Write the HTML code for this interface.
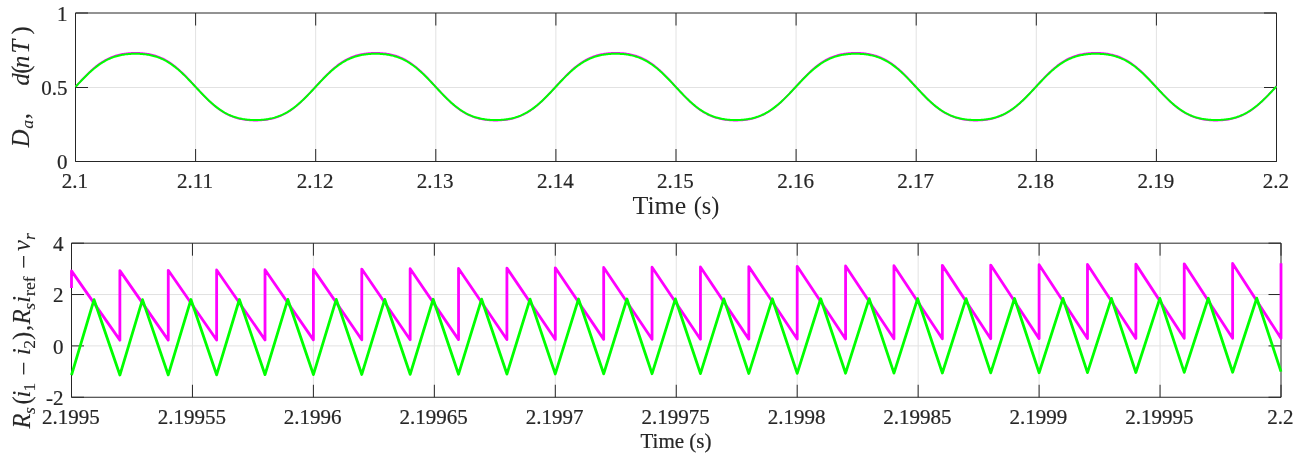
<!DOCTYPE html>
<html><head><meta charset="utf-8"><style>
html,body{margin:0;padding:0;background:#fff;}
body{width:1302px;height:462px;overflow:hidden;}
svg{display:block;}
text{font-family:"Liberation Serif", serif;fill:#262626;stroke:#262626;stroke-width:0.22px;}
</style></head><body>
<svg width="1302" height="462" viewBox="0 0 1302 462">
<rect width="1302" height="462" fill="#fff"/>
<line x1="195.6" y1="13.0" x2="195.6" y2="161.5" stroke="#e2e2e2" stroke-width="1"/>
<line x1="315.7" y1="13.0" x2="315.7" y2="161.5" stroke="#e2e2e2" stroke-width="1"/>
<line x1="435.8" y1="13.0" x2="435.8" y2="161.5" stroke="#e2e2e2" stroke-width="1"/>
<line x1="555.9" y1="13.0" x2="555.9" y2="161.5" stroke="#e2e2e2" stroke-width="1"/>
<line x1="676.0" y1="13.0" x2="676.0" y2="161.5" stroke="#e2e2e2" stroke-width="1"/>
<line x1="796.1" y1="13.0" x2="796.1" y2="161.5" stroke="#e2e2e2" stroke-width="1"/>
<line x1="916.2" y1="13.0" x2="916.2" y2="161.5" stroke="#e2e2e2" stroke-width="1"/>
<line x1="1036.3" y1="13.0" x2="1036.3" y2="161.5" stroke="#e2e2e2" stroke-width="1"/>
<line x1="1156.4" y1="13.0" x2="1156.4" y2="161.5" stroke="#e2e2e2" stroke-width="1"/>
<line x1="75.5" y1="87.5" x2="1276.5" y2="87.5" stroke="#e2e2e2" stroke-width="1"/>
<line x1="192.45" y1="243.17999999999998" x2="192.45" y2="397.26" stroke="#e2e2e2" stroke-width="1"/>
<line x1="313.4" y1="243.17999999999998" x2="313.4" y2="397.26" stroke="#e2e2e2" stroke-width="1"/>
<line x1="434.35" y1="243.17999999999998" x2="434.35" y2="397.26" stroke="#e2e2e2" stroke-width="1"/>
<line x1="555.3" y1="243.17999999999998" x2="555.3" y2="397.26" stroke="#e2e2e2" stroke-width="1"/>
<line x1="676.25" y1="243.17999999999998" x2="676.25" y2="397.26" stroke="#e2e2e2" stroke-width="1"/>
<line x1="797.2" y1="243.17999999999998" x2="797.2" y2="397.26" stroke="#e2e2e2" stroke-width="1"/>
<line x1="918.15" y1="243.17999999999998" x2="918.15" y2="397.26" stroke="#e2e2e2" stroke-width="1"/>
<line x1="1039.1" y1="243.17999999999998" x2="1039.1" y2="397.26" stroke="#e2e2e2" stroke-width="1"/>
<line x1="1160.05" y1="243.17999999999998" x2="1160.05" y2="397.26" stroke="#e2e2e2" stroke-width="1"/>
<line x1="71.5" y1="294.54" x2="1281.0" y2="294.54" stroke="#e2e2e2" stroke-width="1"/>
<line x1="71.5" y1="345.9" x2="1281.0" y2="345.9" stroke="#e2e2e2" stroke-width="1"/>
<line x1="75.5" y1="13.0" x2="1276.5" y2="13.0" stroke="#262626" stroke-width="1"/>
<line x1="75.5" y1="161.5" x2="1276.5" y2="161.5" stroke="#262626" stroke-width="1"/>
<line x1="75.5" y1="13.0" x2="75.5" y2="161.5" stroke="#262626" stroke-width="1"/>
<line x1="1276.5" y1="13.0" x2="1276.5" y2="161.5" stroke="#262626" stroke-width="1"/>
<line x1="71.5" y1="243.17999999999998" x2="1281.0" y2="243.17999999999998" stroke="#262626" stroke-width="1"/>
<line x1="71.5" y1="397.26" x2="1281.0" y2="397.26" stroke="#262626" stroke-width="1"/>
<line x1="71.5" y1="243.17999999999998" x2="71.5" y2="397.26" stroke="#262626" stroke-width="1"/>
<line x1="1281.0" y1="243.17999999999998" x2="1281.0" y2="397.26" stroke="#262626" stroke-width="1"/>
<line x1="75.5" y1="161.5" x2="75.5" y2="149.0" stroke="#262626"/>
<line x1="75.5" y1="13.0" x2="75.5" y2="25.5" stroke="#262626"/>
<line x1="195.6" y1="161.5" x2="195.6" y2="149.0" stroke="#262626"/>
<line x1="195.6" y1="13.0" x2="195.6" y2="25.5" stroke="#262626"/>
<line x1="315.7" y1="161.5" x2="315.7" y2="149.0" stroke="#262626"/>
<line x1="315.7" y1="13.0" x2="315.7" y2="25.5" stroke="#262626"/>
<line x1="435.8" y1="161.5" x2="435.8" y2="149.0" stroke="#262626"/>
<line x1="435.8" y1="13.0" x2="435.8" y2="25.5" stroke="#262626"/>
<line x1="555.9" y1="161.5" x2="555.9" y2="149.0" stroke="#262626"/>
<line x1="555.9" y1="13.0" x2="555.9" y2="25.5" stroke="#262626"/>
<line x1="676.0" y1="161.5" x2="676.0" y2="149.0" stroke="#262626"/>
<line x1="676.0" y1="13.0" x2="676.0" y2="25.5" stroke="#262626"/>
<line x1="796.1" y1="161.5" x2="796.1" y2="149.0" stroke="#262626"/>
<line x1="796.1" y1="13.0" x2="796.1" y2="25.5" stroke="#262626"/>
<line x1="916.2" y1="161.5" x2="916.2" y2="149.0" stroke="#262626"/>
<line x1="916.2" y1="13.0" x2="916.2" y2="25.5" stroke="#262626"/>
<line x1="1036.3" y1="161.5" x2="1036.3" y2="149.0" stroke="#262626"/>
<line x1="1036.3" y1="13.0" x2="1036.3" y2="25.5" stroke="#262626"/>
<line x1="1156.4" y1="161.5" x2="1156.4" y2="149.0" stroke="#262626"/>
<line x1="1156.4" y1="13.0" x2="1156.4" y2="25.5" stroke="#262626"/>
<line x1="1276.5" y1="161.5" x2="1276.5" y2="149.0" stroke="#262626"/>
<line x1="1276.5" y1="13.0" x2="1276.5" y2="25.5" stroke="#262626"/>
<line x1="75.5" y1="161.5" x2="88.0" y2="161.5" stroke="#262626"/>
<line x1="1276.5" y1="161.5" x2="1264.0" y2="161.5" stroke="#262626"/>
<line x1="75.5" y1="87.5" x2="88.0" y2="87.5" stroke="#262626"/>
<line x1="1276.5" y1="87.5" x2="1264.0" y2="87.5" stroke="#262626"/>
<line x1="75.5" y1="13.0" x2="88.0" y2="13.0" stroke="#262626"/>
<line x1="1276.5" y1="13.0" x2="1264.0" y2="13.0" stroke="#262626"/>
<line x1="71.5" y1="397.26" x2="71.5" y2="384.76" stroke="#262626"/>
<line x1="71.5" y1="243.17999999999998" x2="71.5" y2="255.67999999999998" stroke="#262626"/>
<line x1="192.45" y1="397.26" x2="192.45" y2="384.76" stroke="#262626"/>
<line x1="192.45" y1="243.17999999999998" x2="192.45" y2="255.67999999999998" stroke="#262626"/>
<line x1="313.4" y1="397.26" x2="313.4" y2="384.76" stroke="#262626"/>
<line x1="313.4" y1="243.17999999999998" x2="313.4" y2="255.67999999999998" stroke="#262626"/>
<line x1="434.35" y1="397.26" x2="434.35" y2="384.76" stroke="#262626"/>
<line x1="434.35" y1="243.17999999999998" x2="434.35" y2="255.67999999999998" stroke="#262626"/>
<line x1="555.3" y1="397.26" x2="555.3" y2="384.76" stroke="#262626"/>
<line x1="555.3" y1="243.17999999999998" x2="555.3" y2="255.67999999999998" stroke="#262626"/>
<line x1="676.25" y1="397.26" x2="676.25" y2="384.76" stroke="#262626"/>
<line x1="676.25" y1="243.17999999999998" x2="676.25" y2="255.67999999999998" stroke="#262626"/>
<line x1="797.2" y1="397.26" x2="797.2" y2="384.76" stroke="#262626"/>
<line x1="797.2" y1="243.17999999999998" x2="797.2" y2="255.67999999999998" stroke="#262626"/>
<line x1="918.15" y1="397.26" x2="918.15" y2="384.76" stroke="#262626"/>
<line x1="918.15" y1="243.17999999999998" x2="918.15" y2="255.67999999999998" stroke="#262626"/>
<line x1="1039.1" y1="397.26" x2="1039.1" y2="384.76" stroke="#262626"/>
<line x1="1039.1" y1="243.17999999999998" x2="1039.1" y2="255.67999999999998" stroke="#262626"/>
<line x1="1160.05" y1="397.26" x2="1160.05" y2="384.76" stroke="#262626"/>
<line x1="1160.05" y1="243.17999999999998" x2="1160.05" y2="255.67999999999998" stroke="#262626"/>
<line x1="1281.0" y1="397.26" x2="1281.0" y2="384.76" stroke="#262626"/>
<line x1="1281.0" y1="243.17999999999998" x2="1281.0" y2="255.67999999999998" stroke="#262626"/>
<line x1="71.5" y1="397.26" x2="84.0" y2="397.26" stroke="#262626"/>
<line x1="1281.0" y1="397.26" x2="1268.5" y2="397.26" stroke="#262626"/>
<line x1="71.5" y1="345.9" x2="84.0" y2="345.9" stroke="#262626"/>
<line x1="1281.0" y1="345.9" x2="1268.5" y2="345.9" stroke="#262626"/>
<line x1="71.5" y1="294.53999999999996" x2="84.0" y2="294.53999999999996" stroke="#262626"/>
<line x1="1281.0" y1="294.53999999999996" x2="1268.5" y2="294.53999999999996" stroke="#262626"/>
<line x1="71.5" y1="243.17999999999998" x2="84.0" y2="243.17999999999998" stroke="#262626"/>
<line x1="1281.0" y1="243.17999999999998" x2="1268.5" y2="243.17999999999998" stroke="#262626"/>
<polyline points="75.5,86.70 76.5,85.61 77.5,84.52 78.5,83.43 79.5,82.34 80.5,81.27 81.5,80.20 82.5,79.14 83.5,78.09 84.5,77.05 85.5,76.03 86.5,75.02 87.5,74.03 88.5,73.06 89.5,72.10 90.5,71.17 91.5,70.25 92.5,69.36 93.5,68.49 94.5,67.64 95.5,66.82 96.5,66.02 97.5,65.24 98.5,64.49 99.5,63.77 100.5,63.07 101.5,62.40 102.5,61.76 103.5,61.14 104.5,60.55 105.5,59.98 106.5,59.45 107.5,58.93 108.5,58.44 109.5,57.98 110.5,57.54 111.5,57.13 112.5,56.74 113.5,56.37 114.5,56.02 115.5,55.70 116.5,55.40 117.5,55.12 118.5,54.85 119.5,54.61 120.5,54.39 121.5,54.18 122.5,53.99 123.5,53.82 124.5,53.67 125.5,53.53 126.5,53.40 127.5,53.29 128.5,53.20 129.5,53.11 130.5,53.04 131.5,52.99 132.5,52.94 133.5,52.91 134.5,52.89 135.5,52.89 136.5,52.89 137.5,52.91 138.5,52.94 139.5,52.98 140.5,53.04 141.5,53.11 142.5,53.19 143.5,53.29 144.5,53.40 145.5,53.52 146.5,53.66 147.5,53.81 148.5,53.99 149.5,54.17 150.5,54.38 151.5,54.60 152.5,54.84 153.5,55.10 154.5,55.38 155.5,55.68 156.5,56.01 157.5,56.35 158.5,56.72 159.5,57.11 160.5,57.52 161.5,57.96 162.5,58.42 163.5,58.91 164.5,59.42 165.5,59.96 166.5,60.52 167.5,61.11 168.5,61.73 169.5,62.37 170.5,63.04 171.5,63.74 172.5,64.46 173.5,65.21 174.5,65.98 175.5,66.78 176.5,67.60 177.5,68.45 178.5,69.31 179.5,70.21 180.5,71.12 181.5,72.06 182.5,73.01 183.5,73.98 184.5,74.97 185.5,75.98 186.5,77.00 187.5,78.04 188.5,79.09 189.5,80.15 190.5,81.21 191.5,82.29 192.5,83.37 193.5,84.46 194.5,85.55 195.5,86.65 196.5,87.74 197.5,88.83 198.5,89.92 199.5,91.00 200.5,92.08 201.5,93.15 202.5,94.21 203.5,95.26 204.5,96.29 205.5,97.32 206.5,98.33 207.5,99.32 208.5,100.29 209.5,101.25 210.5,102.19 211.5,103.10 212.5,104.00 213.5,104.87 214.5,105.72 215.5,106.54 216.5,107.34 217.5,108.12 218.5,108.87 219.5,109.59 220.5,110.29 221.5,110.96 222.5,111.61 223.5,112.23 224.5,112.82 225.5,113.39 226.5,113.93 227.5,114.44 228.5,114.93 229.5,115.40 230.5,115.84 231.5,116.25 232.5,116.64 233.5,117.01 234.5,117.36 235.5,117.68 236.5,117.99 237.5,118.27 238.5,118.53 239.5,118.78 240.5,119.00 241.5,119.21 242.5,119.40 243.5,119.57 244.5,119.73 245.5,119.87 246.5,119.99 247.5,120.10 248.5,120.20 249.5,120.28 250.5,120.35 251.5,120.41 252.5,120.45 253.5,120.49 254.5,120.51 255.5,120.51 256.5,120.51 257.5,120.49 258.5,120.46 259.5,120.42 260.5,120.36 261.5,120.29 262.5,120.21 263.5,120.12 264.5,120.01 265.5,119.89 266.5,119.75 267.5,119.59 268.5,119.42 269.5,119.24 270.5,119.03 271.5,118.81 272.5,118.57 273.5,118.31 274.5,118.03 275.5,117.73 276.5,117.41 277.5,117.07 278.5,116.70 279.5,116.31 280.5,115.90 281.5,115.46 282.5,115.00 283.5,114.52 284.5,114.01 285.5,113.47 286.5,112.91 287.5,112.32 288.5,111.70 289.5,111.06 290.5,110.39 291.5,109.70 292.5,108.98 293.5,108.23 294.5,107.46 295.5,106.66 296.5,105.84 297.5,105.00 298.5,104.13 299.5,103.24 300.5,102.33 301.5,101.39 302.5,100.44 303.5,99.47 304.5,98.48 305.5,97.47 306.5,96.45 307.5,95.41 308.5,94.37 309.5,93.31 310.5,92.24 311.5,91.16 312.5,90.08 313.5,88.99 314.5,87.90 315.5,86.81 316.5,85.72 317.5,84.63 318.5,83.54 319.5,82.45 320.5,81.38 321.5,80.31 322.5,79.24 323.5,78.20 324.5,77.16 325.5,76.13 326.5,75.12 327.5,74.13 328.5,73.15 329.5,72.20 330.5,71.26 331.5,70.34 332.5,69.45 333.5,68.57 334.5,67.72 335.5,66.90 336.5,66.10 337.5,65.32 338.5,64.57 339.5,63.84 340.5,63.14 341.5,62.47 342.5,61.82 343.5,61.20 344.5,60.61 345.5,60.04 346.5,59.50 347.5,58.98 348.5,58.49 349.5,58.03 350.5,57.58 351.5,57.17 352.5,56.77 353.5,56.40 354.5,56.06 355.5,55.73 356.5,55.43 357.5,55.14 358.5,54.88 359.5,54.64 360.5,54.41 361.5,54.20 362.5,54.01 363.5,53.84 364.5,53.68 365.5,53.54 366.5,53.41 367.5,53.30 368.5,53.20 369.5,53.12 370.5,53.05 371.5,52.99 372.5,52.95 373.5,52.91 374.5,52.89 375.5,52.89 376.5,52.89 377.5,52.91 378.5,52.94 379.5,52.98 380.5,53.03 381.5,53.10 382.5,53.18 383.5,53.28 384.5,53.38 385.5,53.51 386.5,53.65 387.5,53.80 388.5,53.97 389.5,54.15 390.5,54.36 391.5,54.58 392.5,54.82 393.5,55.08 394.5,55.35 395.5,55.65 396.5,55.97 397.5,56.32 398.5,56.68 399.5,57.07 400.5,57.48 401.5,57.91 402.5,58.37 403.5,58.86 404.5,59.37 405.5,59.90 406.5,60.46 407.5,61.05 408.5,61.67 409.5,62.31 410.5,62.97 411.5,63.67 412.5,64.38 413.5,65.13 414.5,65.90 415.5,66.70 416.5,67.52 417.5,68.36 418.5,69.23 419.5,70.12 420.5,71.03 421.5,71.96 422.5,72.91 423.5,73.89 424.5,74.87 425.5,75.88 426.5,76.90 427.5,77.93 428.5,78.98 429.5,80.04 430.5,81.11 431.5,82.18 432.5,83.27 433.5,84.35 434.5,85.44 435.5,86.54 436.5,87.63 437.5,88.72 438.5,89.81 439.5,90.89 440.5,91.97 441.5,93.04 442.5,94.10 443.5,95.15 444.5,96.19 445.5,97.22 446.5,98.23 447.5,99.22 448.5,100.20 449.5,101.15 450.5,102.09 451.5,103.01 452.5,103.91 453.5,104.78 454.5,105.63 455.5,106.46 456.5,107.26 457.5,108.04 458.5,108.79 459.5,109.52 460.5,110.22 461.5,110.90 462.5,111.55 463.5,112.17 464.5,112.76 465.5,113.33 466.5,113.88 467.5,114.39 468.5,114.89 469.5,115.35 470.5,115.79 471.5,116.21 472.5,116.61 473.5,116.98 474.5,117.33 475.5,117.65 476.5,117.96 477.5,118.24 478.5,118.51 479.5,118.75 480.5,118.98 481.5,119.19 482.5,119.38 483.5,119.55 484.5,119.71 485.5,119.85 486.5,119.98 487.5,120.09 488.5,120.19 489.5,120.28 490.5,120.35 491.5,120.41 492.5,120.45 493.5,120.48 494.5,120.50 495.5,120.51 496.5,120.51 497.5,120.49 498.5,120.46 499.5,120.42 500.5,120.37 501.5,120.30 502.5,120.22 503.5,120.13 504.5,120.02 505.5,119.90 506.5,119.76 507.5,119.61 508.5,119.44 509.5,119.26 510.5,119.05 511.5,118.83 512.5,118.60 513.5,118.34 514.5,118.06 515.5,117.76 516.5,117.44 517.5,117.10 518.5,116.74 519.5,116.35 520.5,115.94 521.5,115.51 522.5,115.05 523.5,114.57 524.5,114.06 525.5,113.53 526.5,112.97 527.5,112.38 528.5,111.77 529.5,111.13 530.5,110.46 531.5,109.77 532.5,109.05 533.5,108.31 534.5,107.54 535.5,106.75 536.5,105.93 537.5,105.08 538.5,104.22 539.5,103.33 540.5,102.42 541.5,101.49 542.5,100.53 543.5,99.56 544.5,98.58 545.5,97.57 546.5,96.55 547.5,95.52 548.5,94.47 549.5,93.41 550.5,92.35 551.5,91.27 552.5,90.19 553.5,89.10 554.5,88.01 555.5,86.92 556.5,85.83 557.5,84.73 558.5,83.65 559.5,82.56 560.5,81.48 561.5,80.41 562.5,79.35 563.5,78.30 564.5,77.26 565.5,76.23 566.5,75.22 567.5,74.23 568.5,73.25 569.5,72.29 570.5,71.35 571.5,70.43 572.5,69.54 573.5,68.66 574.5,67.81 575.5,66.98 576.5,66.18 577.5,65.40 578.5,64.64 579.5,63.91 580.5,63.21 581.5,62.54 582.5,61.89 583.5,61.26 584.5,60.67 585.5,60.10 586.5,59.55 587.5,59.03 588.5,58.54 589.5,58.07 590.5,57.63 591.5,57.21 592.5,56.81 593.5,56.44 594.5,56.09 595.5,55.76 596.5,55.46 597.5,55.17 598.5,54.91 599.5,54.66 600.5,54.43 601.5,54.22 602.5,54.03 603.5,53.86 604.5,53.70 605.5,53.55 606.5,53.43 607.5,53.31 608.5,53.21 609.5,53.13 610.5,53.06 611.5,53.00 612.5,52.95 613.5,52.92 614.5,52.90 615.5,52.89 616.5,52.89 617.5,52.91 618.5,52.93 619.5,52.97 620.5,53.03 621.5,53.09 622.5,53.17 623.5,53.27 624.5,53.37 625.5,53.49 626.5,53.63 627.5,53.78 628.5,53.95 629.5,54.13 630.5,54.34 631.5,54.55 632.5,54.79 633.5,55.05 634.5,55.33 635.5,55.62 636.5,55.94 637.5,56.28 638.5,56.64 639.5,57.03 640.5,57.44 641.5,57.87 642.5,58.33 643.5,58.81 644.5,59.31 645.5,59.85 646.5,60.41 647.5,60.99 648.5,61.60 649.5,62.24 650.5,62.90 651.5,63.59 652.5,64.31 653.5,65.05 654.5,65.82 655.5,66.61 656.5,67.43 657.5,68.27 658.5,69.14 659.5,70.03 660.5,70.94 661.5,71.87 662.5,72.82 663.5,73.79 664.5,74.77 665.5,75.78 666.5,76.80 667.5,77.83 668.5,78.88 669.5,79.93 670.5,81.00 671.5,82.07 672.5,83.16 673.5,84.24 674.5,85.33 675.5,86.43 676.5,87.52 677.5,88.61 678.5,89.70 679.5,90.78 680.5,91.86 681.5,92.93 682.5,94.00 683.5,95.05 684.5,96.09 685.5,97.11 686.5,98.13 687.5,99.12 688.5,100.10 689.5,101.06 690.5,102.00 691.5,102.92 692.5,103.82 693.5,104.70 694.5,105.55 695.5,106.38 696.5,107.18 697.5,107.97 698.5,108.72 699.5,109.45 700.5,110.15 701.5,110.83 702.5,111.48 703.5,112.11 704.5,112.70 705.5,113.28 706.5,113.82 707.5,114.34 708.5,114.84 709.5,115.31 710.5,115.75 711.5,116.17 712.5,116.57 713.5,116.94 714.5,117.29 715.5,117.62 716.5,117.93 717.5,118.22 718.5,118.48 719.5,118.73 720.5,118.96 721.5,119.17 722.5,119.36 723.5,119.54 724.5,119.70 725.5,119.84 726.5,119.97 727.5,120.08 728.5,120.18 729.5,120.27 730.5,120.34 731.5,120.40 732.5,120.45 733.5,120.48 734.5,120.50 735.5,120.51 736.5,120.51 737.5,120.49 738.5,120.47 739.5,120.43 740.5,120.37 741.5,120.31 742.5,120.23 743.5,120.14 744.5,120.03 745.5,119.91 746.5,119.78 747.5,119.63 748.5,119.46 749.5,119.28 750.5,119.08 751.5,118.86 752.5,118.62 753.5,118.36 754.5,118.09 755.5,117.79 756.5,117.48 757.5,117.14 758.5,116.78 759.5,116.39 760.5,115.99 761.5,115.55 762.5,115.10 763.5,114.62 764.5,114.11 765.5,113.58 766.5,113.02 767.5,112.44 768.5,111.83 769.5,111.19 770.5,110.53 771.5,109.84 772.5,109.13 773.5,108.38 774.5,107.62 775.5,106.83 776.5,106.01 777.5,105.17 778.5,104.30 779.5,103.42 780.5,102.51 781.5,101.58 782.5,100.63 783.5,99.66 784.5,98.68 785.5,97.67 786.5,96.65 787.5,95.62 788.5,94.58 789.5,93.52 790.5,92.45 791.5,91.38 792.5,90.30 793.5,89.21 794.5,88.12 795.5,87.03 796.5,85.93 797.5,84.84 798.5,83.75 799.5,82.67 800.5,81.59 801.5,80.52 802.5,79.46 803.5,78.40 804.5,77.36 805.5,76.34 806.5,75.32 807.5,74.33 808.5,73.35 809.5,72.39 810.5,71.45 811.5,70.52 812.5,69.62 813.5,68.75 814.5,67.89 815.5,67.06 816.5,66.25 817.5,65.47 818.5,64.72 819.5,63.99 820.5,63.28 821.5,62.60 822.5,61.95 823.5,61.32 824.5,60.72 825.5,60.15 826.5,59.60 827.5,59.08 828.5,58.59 829.5,58.12 830.5,57.67 831.5,57.25 832.5,56.85 833.5,56.48 834.5,56.12 835.5,55.79 836.5,55.49 837.5,55.20 838.5,54.93 839.5,54.68 840.5,54.45 841.5,54.24 842.5,54.05 843.5,53.87 844.5,53.71 845.5,53.57 846.5,53.44 847.5,53.32 848.5,53.22 849.5,53.14 850.5,53.06 851.5,53.00 852.5,52.96 853.5,52.92 854.5,52.90 855.5,52.89 856.5,52.89 857.5,52.90 858.5,52.93 859.5,52.97 860.5,53.02 861.5,53.09 862.5,53.16 863.5,53.26 864.5,53.36 865.5,53.48 866.5,53.62 867.5,53.77 868.5,53.93 869.5,54.11 870.5,54.31 871.5,54.53 872.5,54.77 873.5,55.02 874.5,55.30 875.5,55.59 876.5,55.91 877.5,56.25 878.5,56.60 879.5,56.99 880.5,57.39 881.5,57.82 882.5,58.28 883.5,58.76 884.5,59.26 885.5,59.79 886.5,60.35 887.5,60.93 888.5,61.54 889.5,62.18 890.5,62.84 891.5,63.52 892.5,64.24 893.5,64.98 894.5,65.74 895.5,66.53 896.5,67.35 897.5,68.19 898.5,69.05 899.5,69.94 900.5,70.84 901.5,71.77 902.5,72.72 903.5,73.69 904.5,74.67 905.5,75.68 906.5,76.69 907.5,77.73 908.5,78.77 909.5,79.83 910.5,80.89 911.5,81.97 912.5,83.05 913.5,84.13 914.5,85.23 915.5,86.32 916.5,87.41 917.5,88.50 918.5,89.59 919.5,90.68 920.5,91.76 921.5,92.83 922.5,93.89 923.5,94.94 924.5,95.98 925.5,97.01 926.5,98.03 927.5,99.02 928.5,100.00 929.5,100.96 930.5,101.91 931.5,102.83 932.5,103.73 933.5,104.61 934.5,105.47 935.5,106.30 936.5,107.11 937.5,107.89 938.5,108.65 939.5,109.38 940.5,110.08 941.5,110.76 942.5,111.42 943.5,112.05 944.5,112.65 945.5,113.22 946.5,113.77 947.5,114.29 948.5,114.79 949.5,115.26 950.5,115.71 951.5,116.13 952.5,116.53 953.5,116.91 954.5,117.26 955.5,117.59 956.5,117.90 957.5,118.19 958.5,118.46 959.5,118.71 960.5,118.94 961.5,119.15 962.5,119.34 963.5,119.52 964.5,119.68 965.5,119.83 966.5,119.96 967.5,120.07 968.5,120.17 969.5,120.26 970.5,120.33 971.5,120.39 972.5,120.44 973.5,120.48 974.5,120.50 975.5,120.51 976.5,120.51 977.5,120.50 978.5,120.47 979.5,120.43 980.5,120.38 981.5,120.32 982.5,120.24 983.5,120.15 984.5,120.04 985.5,119.92 986.5,119.79 987.5,119.64 988.5,119.48 989.5,119.29 990.5,119.10 991.5,118.88 992.5,118.64 993.5,118.39 994.5,118.12 995.5,117.82 996.5,117.51 997.5,117.17 998.5,116.81 999.5,116.43 1000.5,116.03 1001.5,115.60 1002.5,115.15 1003.5,114.67 1004.5,114.16 1005.5,113.63 1006.5,113.08 1007.5,112.50 1008.5,111.89 1009.5,111.26 1010.5,110.60 1011.5,109.91 1012.5,109.20 1013.5,108.46 1014.5,107.70 1015.5,106.91 1016.5,106.09 1017.5,105.25 1018.5,104.39 1019.5,103.51 1020.5,102.60 1021.5,101.67 1022.5,100.73 1023.5,99.76 1024.5,98.77 1025.5,97.77 1026.5,96.76 1027.5,95.73 1028.5,94.68 1029.5,93.63 1030.5,92.56 1031.5,91.49 1032.5,90.41 1033.5,89.32 1034.5,88.23 1035.5,87.14 1036.5,86.04 1037.5,84.95 1038.5,83.86 1039.5,82.78 1040.5,81.70 1041.5,80.63 1042.5,79.56 1043.5,78.51 1044.5,77.47 1045.5,76.44 1046.5,75.43 1047.5,74.43 1048.5,73.45 1049.5,72.48 1050.5,71.54 1051.5,70.62 1052.5,69.71 1053.5,68.83 1054.5,67.98 1055.5,67.14 1056.5,66.33 1057.5,65.55 1058.5,64.79 1059.5,64.06 1060.5,63.35 1061.5,62.67 1062.5,62.01 1063.5,61.39 1064.5,60.78 1065.5,60.21 1066.5,59.66 1067.5,59.13 1068.5,58.64 1069.5,58.16 1070.5,57.71 1071.5,57.29 1072.5,56.89 1073.5,56.51 1074.5,56.16 1075.5,55.83 1076.5,55.52 1077.5,55.23 1078.5,54.96 1079.5,54.71 1080.5,54.48 1081.5,54.26 1082.5,54.07 1083.5,53.89 1084.5,53.73 1085.5,53.58 1086.5,53.45 1087.5,53.33 1088.5,53.23 1089.5,53.14 1090.5,53.07 1091.5,53.01 1092.5,52.96 1093.5,52.92 1094.5,52.90 1095.5,52.89 1096.5,52.89 1097.5,52.90 1098.5,52.93 1099.5,52.97 1100.5,53.02 1101.5,53.08 1102.5,53.16 1103.5,53.25 1104.5,53.35 1105.5,53.47 1106.5,53.60 1107.5,53.75 1108.5,53.92 1109.5,54.10 1110.5,54.29 1111.5,54.51 1112.5,54.74 1113.5,55.00 1114.5,55.27 1115.5,55.56 1116.5,55.87 1117.5,56.21 1118.5,56.57 1119.5,56.95 1120.5,57.35 1121.5,57.78 1122.5,58.23 1123.5,58.71 1124.5,59.21 1125.5,59.74 1126.5,60.29 1127.5,60.87 1128.5,61.48 1129.5,62.11 1130.5,62.77 1131.5,63.45 1132.5,64.17 1133.5,64.90 1134.5,65.67 1135.5,66.45 1136.5,67.27 1137.5,68.10 1138.5,68.96 1139.5,69.85 1140.5,70.75 1141.5,71.68 1142.5,72.63 1143.5,73.59 1144.5,74.58 1145.5,75.58 1146.5,76.59 1147.5,77.62 1148.5,78.67 1149.5,79.72 1150.5,80.79 1151.5,81.86 1152.5,82.94 1153.5,84.03 1154.5,85.12 1155.5,86.21 1156.5,87.30 1157.5,88.39 1158.5,89.48 1159.5,90.57 1160.5,91.65 1161.5,92.72 1162.5,93.79 1163.5,94.84 1164.5,95.88 1165.5,96.91 1166.5,97.92 1167.5,98.92 1168.5,99.91 1169.5,100.87 1170.5,101.81 1171.5,102.74 1172.5,103.64 1173.5,104.52 1174.5,105.38 1175.5,106.22 1176.5,107.03 1177.5,107.81 1178.5,108.57 1179.5,109.31 1180.5,110.01 1181.5,110.70 1182.5,111.35 1183.5,111.98 1184.5,112.59 1185.5,113.16 1186.5,113.72 1187.5,114.24 1188.5,114.74 1189.5,115.21 1190.5,115.66 1191.5,116.09 1192.5,116.49 1193.5,116.87 1194.5,117.22 1195.5,117.56 1196.5,117.87 1197.5,118.16 1198.5,118.43 1199.5,118.68 1200.5,118.91 1201.5,119.13 1202.5,119.32 1203.5,119.50 1204.5,119.66 1205.5,119.81 1206.5,119.94 1207.5,120.06 1208.5,120.16 1209.5,120.25 1210.5,120.33 1211.5,120.39 1212.5,120.44 1213.5,120.48 1214.5,120.50 1215.5,120.51 1216.5,120.51 1217.5,120.50 1218.5,120.47 1219.5,120.44 1220.5,120.39 1221.5,120.32 1222.5,120.25 1223.5,120.16 1224.5,120.05 1225.5,119.94 1226.5,119.80 1227.5,119.66 1228.5,119.49 1229.5,119.31 1230.5,119.12 1231.5,118.90 1232.5,118.67 1233.5,118.42 1234.5,118.15 1235.5,117.85 1236.5,117.54 1237.5,117.21 1238.5,116.85 1239.5,116.47 1240.5,116.07 1241.5,115.64 1242.5,115.19 1243.5,114.72 1244.5,114.21 1245.5,113.69 1246.5,113.14 1247.5,112.56 1248.5,111.95 1249.5,111.32 1250.5,110.66 1251.5,109.98 1252.5,109.27 1253.5,108.53 1254.5,107.77 1255.5,106.99 1256.5,106.17 1257.5,105.34 1258.5,104.48 1259.5,103.60 1260.5,102.69 1261.5,101.77 1262.5,100.82 1263.5,99.86 1264.5,98.87 1265.5,97.87 1266.5,96.86 1267.5,95.83 1268.5,94.79 1269.5,93.73 1270.5,92.67 1271.5,91.59 1272.5,90.51 1273.5,89.43 1274.5,88.34 1275.5,87.25 1276.5,86.15" fill="none" stroke="#ff00ff" stroke-width="1.8"/>
<polyline points="75.5,86.90 76.5,85.83 77.5,84.76 78.5,83.69 79.5,82.63 80.5,81.57 81.5,80.53 82.5,79.49 83.5,78.46 84.5,77.44 85.5,76.44 86.5,75.45 87.5,74.48 88.5,73.53 89.5,72.59 90.5,71.67 91.5,70.77 92.5,69.90 93.5,69.05 94.5,68.21 95.5,67.41 96.5,66.62 97.5,65.86 98.5,65.13 99.5,64.42 100.5,63.74 101.5,63.08 102.5,62.45 103.5,61.84 104.5,61.26 105.5,60.71 106.5,60.18 107.5,59.68 108.5,59.20 109.5,58.74 110.5,58.31 111.5,57.91 112.5,57.52 113.5,57.16 114.5,56.82 115.5,56.51 116.5,56.21 117.5,55.94 118.5,55.68 119.5,55.44 120.5,55.22 121.5,55.02 122.5,54.84 123.5,54.67 124.5,54.51 125.5,54.38 126.5,54.26 127.5,54.15 128.5,54.05 129.5,53.97 130.5,53.90 131.5,53.85 132.5,53.81 133.5,53.77 134.5,53.76 135.5,53.75 136.5,53.76 137.5,53.77 138.5,53.80 139.5,53.85 140.5,53.90 141.5,53.97 142.5,54.05 143.5,54.14 144.5,54.25 145.5,54.37 146.5,54.51 147.5,54.66 148.5,54.83 149.5,55.01 150.5,55.21 151.5,55.43 152.5,55.67 153.5,55.92 154.5,56.20 155.5,56.49 156.5,56.81 157.5,57.15 158.5,57.51 159.5,57.89 160.5,58.29 161.5,58.72 162.5,59.17 163.5,59.65 164.5,60.15 165.5,60.68 166.5,61.23 167.5,61.81 168.5,62.42 169.5,63.05 170.5,63.70 171.5,64.39 172.5,65.09 173.5,65.83 174.5,66.58 175.5,67.37 176.5,68.17 177.5,69.00 178.5,69.86 179.5,70.73 180.5,71.63 181.5,72.54 182.5,73.48 183.5,74.43 184.5,75.40 185.5,76.39 186.5,77.39 187.5,78.41 188.5,79.44 189.5,80.47 190.5,81.52 191.5,82.58 192.5,83.64 193.5,84.71 194.5,85.78 195.5,86.85 196.5,87.92 197.5,88.99 198.5,90.05 199.5,91.12 200.5,92.17 201.5,93.22 202.5,94.26 203.5,95.29 204.5,96.31 205.5,97.31 206.5,98.30 207.5,99.27 208.5,100.23 209.5,101.16 210.5,102.08 211.5,102.98 212.5,103.86 213.5,104.71 214.5,105.54 215.5,106.35 216.5,107.14 217.5,107.90 218.5,108.63 219.5,109.34 220.5,110.03 221.5,110.69 222.5,111.32 223.5,111.93 224.5,112.51 225.5,113.06 226.5,113.59 227.5,114.10 228.5,114.58 229.5,115.03 230.5,115.47 231.5,115.87 232.5,116.26 233.5,116.62 234.5,116.96 235.5,117.28 236.5,117.57 237.5,117.85 238.5,118.11 239.5,118.35 240.5,118.57 241.5,118.77 242.5,118.96 243.5,119.12 244.5,119.28 245.5,119.42 246.5,119.54 247.5,119.65 248.5,119.74 249.5,119.82 250.5,119.89 251.5,119.95 252.5,119.99 253.5,120.02 254.5,120.04 255.5,120.05 256.5,120.04 257.5,120.03 258.5,120.00 259.5,119.96 260.5,119.90 261.5,119.84 262.5,119.76 263.5,119.66 264.5,119.56 265.5,119.44 266.5,119.30 267.5,119.15 268.5,118.98 269.5,118.80 270.5,118.60 271.5,118.38 272.5,118.15 273.5,117.89 274.5,117.62 275.5,117.32 276.5,117.01 277.5,116.67 278.5,116.31 279.5,115.93 280.5,115.53 281.5,115.10 282.5,114.65 283.5,114.17 284.5,113.67 285.5,113.15 286.5,112.59 287.5,112.02 288.5,111.41 289.5,110.78 290.5,110.13 291.5,109.45 292.5,108.74 293.5,108.01 294.5,107.25 295.5,106.47 296.5,105.67 297.5,104.84 298.5,103.99 299.5,103.11 300.5,102.22 301.5,101.30 302.5,100.37 303.5,99.42 304.5,98.45 305.5,97.46 306.5,96.46 307.5,95.44 308.5,94.42 309.5,93.38 310.5,92.33 311.5,91.28 312.5,90.21 313.5,89.15 314.5,88.08 315.5,87.01 316.5,85.94 317.5,84.87 318.5,83.80 319.5,82.74 320.5,81.68 321.5,80.63 322.5,79.59 323.5,78.56 324.5,77.54 325.5,76.54 326.5,75.55 327.5,74.58 328.5,73.62 329.5,72.68 330.5,71.76 331.5,70.86 332.5,69.99 333.5,69.13 334.5,68.30 335.5,67.49 336.5,66.70 337.5,65.94 338.5,65.20 339.5,64.49 340.5,63.81 341.5,63.14 342.5,62.51 343.5,61.90 344.5,61.32 345.5,60.76 346.5,60.23 347.5,59.73 348.5,59.24 349.5,58.79 350.5,58.36 351.5,57.95 352.5,57.56 353.5,57.20 354.5,56.86 355.5,56.54 356.5,56.24 357.5,55.96 358.5,55.70 359.5,55.46 360.5,55.24 361.5,55.04 362.5,54.85 363.5,54.68 364.5,54.53 365.5,54.39 366.5,54.27 367.5,54.16 368.5,54.06 369.5,53.98 370.5,53.91 371.5,53.85 372.5,53.81 373.5,53.78 374.5,53.76 375.5,53.75 376.5,53.75 377.5,53.77 378.5,53.80 379.5,53.84 380.5,53.89 381.5,53.96 382.5,54.04 383.5,54.13 384.5,54.24 385.5,54.36 386.5,54.49 387.5,54.64 388.5,54.81 389.5,54.99 390.5,55.19 391.5,55.41 392.5,55.64 393.5,55.90 394.5,56.17 395.5,56.46 396.5,56.78 397.5,57.11 398.5,57.47 399.5,57.85 400.5,58.25 401.5,58.68 402.5,59.13 403.5,59.60 404.5,60.10 405.5,60.63 406.5,61.18 407.5,61.75 408.5,62.36 409.5,62.98 410.5,63.64 411.5,64.32 412.5,65.02 413.5,65.75 414.5,66.51 415.5,67.29 416.5,68.09 417.5,68.92 418.5,69.77 419.5,70.64 420.5,71.54 421.5,72.45 422.5,73.38 423.5,74.34 424.5,75.31 425.5,76.29 426.5,77.29 427.5,78.31 428.5,79.33 429.5,80.37 430.5,81.42 431.5,82.47 432.5,83.53 433.5,84.60 434.5,85.67 435.5,86.74 436.5,87.81 437.5,88.88 438.5,89.95 439.5,91.01 440.5,92.07 441.5,93.12 442.5,94.16 443.5,95.19 444.5,96.20 445.5,97.21 446.5,98.20 447.5,99.17 448.5,100.13 449.5,101.07 450.5,101.99 451.5,102.89 452.5,103.77 453.5,104.63 454.5,105.46 455.5,106.27 456.5,107.06 457.5,107.82 458.5,108.56 459.5,109.27 460.5,109.96 461.5,110.62 462.5,111.26 463.5,111.87 464.5,112.45 465.5,113.01 466.5,113.54 467.5,114.05 468.5,114.53 469.5,114.99 470.5,115.42 471.5,115.83 472.5,116.22 473.5,116.58 474.5,116.93 475.5,117.25 476.5,117.55 477.5,117.82 478.5,118.08 479.5,118.32 480.5,118.55 481.5,118.75 482.5,118.94 483.5,119.11 484.5,119.26 485.5,119.40 486.5,119.53 487.5,119.64 488.5,119.73 489.5,119.82 490.5,119.89 491.5,119.94 492.5,119.99 493.5,120.02 494.5,120.04 495.5,120.05 496.5,120.05 497.5,120.03 498.5,120.00 499.5,119.96 500.5,119.91 501.5,119.84 502.5,119.76 503.5,119.67 504.5,119.57 505.5,119.45 506.5,119.31 507.5,119.16 508.5,119.00 509.5,118.82 510.5,118.62 511.5,118.40 512.5,118.17 513.5,117.92 514.5,117.65 515.5,117.35 516.5,117.04 517.5,116.71 518.5,116.35 519.5,115.97 520.5,115.57 521.5,115.14 522.5,114.70 523.5,114.22 524.5,113.72 525.5,113.20 526.5,112.65 527.5,112.08 528.5,111.47 529.5,110.85 530.5,110.20 531.5,109.52 532.5,108.81 533.5,108.08 534.5,107.33 535.5,106.55 536.5,105.75 537.5,104.92 538.5,104.07 539.5,103.20 540.5,102.31 541.5,101.40 542.5,100.46 543.5,99.51 544.5,98.54 545.5,97.56 546.5,96.56 547.5,95.54 548.5,94.52 549.5,93.48 550.5,92.44 551.5,91.38 552.5,90.32 553.5,89.25 554.5,88.19 555.5,87.11 556.5,86.04 557.5,84.97 558.5,83.91 559.5,82.84 560.5,81.79 561.5,80.74 562.5,79.69 563.5,78.66 564.5,77.65 565.5,76.64 566.5,75.65 567.5,74.67 568.5,73.72 569.5,72.78 570.5,71.85 571.5,70.95 572.5,70.07 573.5,69.21 574.5,68.38 575.5,67.57 576.5,66.78 577.5,66.01 578.5,65.27 579.5,64.56 580.5,63.87 581.5,63.21 582.5,62.57 583.5,61.96 584.5,61.38 585.5,60.82 586.5,60.28 587.5,59.77 588.5,59.29 589.5,58.83 590.5,58.40 591.5,57.99 592.5,57.60 593.5,57.23 594.5,56.89 595.5,56.57 596.5,56.27 597.5,55.99 598.5,55.73 599.5,55.49 600.5,55.26 601.5,55.06 602.5,54.87 603.5,54.70 604.5,54.54 605.5,54.40 606.5,54.28 607.5,54.17 608.5,54.07 609.5,53.99 610.5,53.92 611.5,53.86 612.5,53.81 613.5,53.78 614.5,53.76 615.5,53.75 616.5,53.75 617.5,53.77 618.5,53.80 619.5,53.84 620.5,53.89 621.5,53.95 622.5,54.03 623.5,54.12 624.5,54.23 625.5,54.35 626.5,54.48 627.5,54.63 628.5,54.79 629.5,54.97 630.5,55.17 631.5,55.38 632.5,55.62 633.5,55.87 634.5,56.14 635.5,56.43 636.5,56.74 637.5,57.08 638.5,57.43 639.5,57.81 640.5,58.21 641.5,58.63 642.5,59.08 643.5,59.55 644.5,60.05 645.5,60.57 646.5,61.12 647.5,61.70 648.5,62.29 649.5,62.92 650.5,63.57 651.5,64.25 652.5,64.95 653.5,65.68 654.5,66.43 655.5,67.21 656.5,68.01 657.5,68.84 658.5,69.68 659.5,70.55 660.5,71.45 661.5,72.36 662.5,73.29 663.5,74.24 664.5,75.21 665.5,76.19 666.5,77.19 667.5,78.20 668.5,79.23 669.5,80.27 670.5,81.31 671.5,82.37 672.5,83.43 673.5,84.49 674.5,85.56 675.5,86.63 676.5,87.70 677.5,88.77 678.5,89.84 679.5,90.90 680.5,91.96 681.5,93.01 682.5,94.05 683.5,95.08 684.5,96.10 685.5,97.11 686.5,98.10 687.5,99.08 688.5,100.04 689.5,100.98 690.5,101.90 691.5,102.80 692.5,103.68 693.5,104.54 694.5,105.38 695.5,106.19 696.5,106.98 697.5,107.75 698.5,108.49 699.5,109.20 700.5,109.89 701.5,110.56 702.5,111.20 703.5,111.81 704.5,112.39 705.5,112.96 706.5,113.49 707.5,114.00 708.5,114.49 709.5,114.95 710.5,115.38 711.5,115.79 712.5,116.18 713.5,116.55 714.5,116.89 715.5,117.22 716.5,117.52 717.5,117.80 718.5,118.06 719.5,118.30 720.5,118.52 721.5,118.73 722.5,118.92 723.5,119.09 724.5,119.25 725.5,119.39 726.5,119.52 727.5,119.63 728.5,119.73 729.5,119.81 730.5,119.88 731.5,119.94 732.5,119.99 733.5,120.02 734.5,120.04 735.5,120.05 736.5,120.05 737.5,120.03 738.5,120.01 739.5,119.97 740.5,119.91 741.5,119.85 742.5,119.77 743.5,119.68 744.5,119.58 745.5,119.46 746.5,119.33 747.5,119.18 748.5,119.02 749.5,118.84 750.5,118.64 751.5,118.43 752.5,118.19 753.5,117.94 754.5,117.67 755.5,117.38 756.5,117.07 757.5,116.74 758.5,116.39 759.5,116.01 760.5,115.61 761.5,115.19 762.5,114.74 763.5,114.27 764.5,113.77 765.5,113.25 766.5,112.71 767.5,112.13 768.5,111.54 769.5,110.91 770.5,110.26 771.5,109.59 772.5,108.89 773.5,108.16 774.5,107.41 775.5,106.63 776.5,105.83 777.5,105.01 778.5,104.16 779.5,103.29 780.5,102.40 781.5,101.49 782.5,100.56 783.5,99.61 784.5,98.64 785.5,97.66 786.5,96.66 787.5,95.65 788.5,94.62 789.5,93.59 790.5,92.54 791.5,91.49 792.5,90.43 793.5,89.36 794.5,88.29 795.5,87.22 796.5,86.15 797.5,85.08 798.5,84.01 799.5,82.95 800.5,81.89 801.5,80.84 802.5,79.80 803.5,78.77 804.5,77.75 805.5,76.74 806.5,75.75 807.5,74.77 808.5,73.81 809.5,72.87 810.5,71.95 811.5,71.04 812.5,70.16 813.5,69.30 814.5,68.46 815.5,67.65 816.5,66.86 817.5,66.09 818.5,65.35 819.5,64.63 820.5,63.94 821.5,63.27 822.5,62.64 823.5,62.02 824.5,61.43 825.5,60.87 826.5,60.34 827.5,59.82 828.5,59.34 829.5,58.88 830.5,58.44 831.5,58.03 832.5,57.64 833.5,57.27 834.5,56.92 835.5,56.60 836.5,56.30 837.5,56.02 838.5,55.75 839.5,55.51 840.5,55.29 841.5,55.08 842.5,54.89 843.5,54.72 844.5,54.56 845.5,54.42 846.5,54.29 847.5,54.18 848.5,54.08 849.5,53.99 850.5,53.92 851.5,53.86 852.5,53.82 853.5,53.78 854.5,53.76 855.5,53.75 856.5,53.75 857.5,53.77 858.5,53.79 859.5,53.83 860.5,53.88 861.5,53.95 862.5,54.02 863.5,54.11 864.5,54.22 865.5,54.33 866.5,54.47 867.5,54.61 868.5,54.77 869.5,54.95 870.5,55.15 871.5,55.36 872.5,55.59 873.5,55.84 874.5,56.11 875.5,56.40 876.5,56.71 877.5,57.04 878.5,57.39 879.5,57.77 880.5,58.17 881.5,58.59 882.5,59.04 883.5,59.51 884.5,60.00 885.5,60.52 886.5,61.07 887.5,61.64 888.5,62.23 889.5,62.86 890.5,63.50 891.5,64.18 892.5,64.88 893.5,65.60 894.5,66.35 895.5,67.13 896.5,67.93 897.5,68.75 898.5,69.60 899.5,70.47 900.5,71.36 901.5,72.27 902.5,73.20 903.5,74.14 904.5,75.11 905.5,76.09 906.5,77.09 907.5,78.10 908.5,79.13 909.5,80.16 910.5,81.21 911.5,82.26 912.5,83.32 913.5,84.39 914.5,85.45 915.5,86.52 916.5,87.60 917.5,88.67 918.5,89.73 919.5,90.80 920.5,91.86 921.5,92.91 922.5,93.95 923.5,94.98 924.5,96.00 925.5,97.01 926.5,98.00 927.5,98.98 928.5,99.94 929.5,100.89 930.5,101.81 931.5,102.71 932.5,103.60 933.5,104.46 934.5,105.30 935.5,106.11 936.5,106.91 937.5,107.67 938.5,108.42 939.5,109.13 940.5,109.83 941.5,110.49 942.5,111.13 943.5,111.75 944.5,112.34 945.5,112.90 946.5,113.44 947.5,113.95 948.5,114.44 949.5,114.90 950.5,115.34 951.5,115.75 952.5,116.14 953.5,116.51 954.5,116.86 955.5,117.18 956.5,117.49 957.5,117.77 958.5,118.03 959.5,118.28 960.5,118.50 961.5,118.71 962.5,118.90 963.5,119.08 964.5,119.23 965.5,119.38 966.5,119.50 967.5,119.62 968.5,119.72 969.5,119.80 970.5,119.87 971.5,119.93 972.5,119.98 973.5,120.02 974.5,120.04 975.5,120.05 976.5,120.05 977.5,120.03 978.5,120.01 979.5,119.97 980.5,119.92 981.5,119.86 982.5,119.78 983.5,119.69 984.5,119.59 985.5,119.47 986.5,119.34 987.5,119.20 988.5,119.03 989.5,118.86 990.5,118.66 991.5,118.45 992.5,118.22 993.5,117.97 994.5,117.70 995.5,117.41 996.5,117.10 997.5,116.77 998.5,116.42 999.5,116.05 1000.5,115.65 1001.5,115.23 1002.5,114.79 1003.5,114.32 1004.5,113.82 1005.5,113.31 1006.5,112.76 1007.5,112.19 1008.5,111.60 1009.5,110.98 1010.5,110.33 1011.5,109.66 1012.5,108.96 1013.5,108.23 1014.5,107.48 1015.5,106.71 1016.5,105.91 1017.5,105.09 1018.5,104.25 1019.5,103.38 1020.5,102.49 1021.5,101.58 1022.5,100.65 1023.5,99.70 1024.5,98.74 1025.5,97.76 1026.5,96.76 1027.5,95.75 1028.5,94.72 1029.5,93.69 1030.5,92.65 1031.5,91.59 1032.5,90.53 1033.5,89.47 1034.5,88.40 1035.5,87.33 1036.5,86.26 1037.5,85.19 1038.5,84.12 1039.5,83.05 1040.5,82.00 1041.5,80.94 1042.5,79.90 1043.5,78.87 1044.5,77.85 1045.5,76.84 1046.5,75.85 1047.5,74.87 1048.5,73.91 1049.5,72.96 1050.5,72.04 1051.5,71.13 1052.5,70.25 1053.5,69.38 1054.5,68.54 1055.5,67.73 1056.5,66.93 1057.5,66.16 1058.5,65.42 1059.5,64.70 1060.5,64.01 1061.5,63.34 1062.5,62.70 1063.5,62.08 1064.5,61.49 1065.5,60.93 1066.5,60.39 1067.5,59.87 1068.5,59.39 1069.5,58.92 1070.5,58.48 1071.5,58.07 1072.5,57.67 1073.5,57.30 1074.5,56.96 1075.5,56.63 1076.5,56.33 1077.5,56.04 1078.5,55.78 1079.5,55.53 1080.5,55.31 1081.5,55.10 1082.5,54.91 1083.5,54.73 1084.5,54.57 1085.5,54.43 1086.5,54.30 1087.5,54.19 1088.5,54.09 1089.5,54.00 1090.5,53.93 1091.5,53.87 1092.5,53.82 1093.5,53.79 1094.5,53.76 1095.5,53.75 1096.5,53.75 1097.5,53.76 1098.5,53.79 1099.5,53.83 1100.5,53.88 1101.5,53.94 1102.5,54.01 1103.5,54.10 1104.5,54.20 1105.5,54.32 1106.5,54.45 1107.5,54.60 1108.5,54.76 1109.5,54.94 1110.5,55.13 1111.5,55.34 1112.5,55.57 1113.5,55.82 1114.5,56.08 1115.5,56.37 1116.5,56.68 1117.5,57.01 1118.5,57.36 1119.5,57.73 1120.5,58.13 1121.5,58.55 1122.5,58.99 1123.5,59.46 1124.5,59.95 1125.5,60.47 1126.5,61.01 1127.5,61.58 1128.5,62.17 1129.5,62.79 1130.5,63.44 1131.5,64.11 1132.5,64.81 1133.5,65.53 1134.5,66.28 1135.5,67.05 1136.5,67.85 1137.5,68.67 1138.5,69.51 1139.5,70.38 1140.5,71.27 1141.5,72.17 1142.5,73.10 1143.5,74.05 1144.5,75.01 1145.5,75.99 1146.5,76.99 1147.5,78.00 1148.5,79.02 1149.5,80.06 1150.5,81.10 1151.5,82.15 1152.5,83.21 1153.5,84.28 1154.5,85.35 1155.5,86.42 1156.5,87.49 1157.5,88.56 1158.5,89.63 1159.5,90.69 1160.5,91.75 1161.5,92.80 1162.5,93.85 1163.5,94.88 1164.5,95.90 1165.5,96.91 1166.5,97.90 1167.5,98.88 1168.5,99.85 1169.5,100.79 1170.5,101.72 1171.5,102.62 1172.5,103.51 1173.5,104.37 1174.5,105.21 1175.5,106.03 1176.5,106.83 1177.5,107.60 1178.5,108.34 1179.5,109.06 1180.5,109.76 1181.5,110.43 1182.5,111.07 1183.5,111.69 1184.5,112.28 1185.5,112.85 1186.5,113.39 1187.5,113.90 1188.5,114.39 1189.5,114.86 1190.5,115.30 1191.5,115.71 1192.5,116.11 1193.5,116.48 1194.5,116.83 1195.5,117.15 1196.5,117.46 1197.5,117.74 1198.5,118.01 1199.5,118.25 1200.5,118.48 1201.5,118.69 1202.5,118.88 1203.5,119.06 1204.5,119.22 1205.5,119.36 1206.5,119.49 1207.5,119.61 1208.5,119.71 1209.5,119.79 1210.5,119.87 1211.5,119.93 1212.5,119.98 1213.5,120.01 1214.5,120.04 1215.5,120.05 1216.5,120.05 1217.5,120.04 1218.5,120.01 1219.5,119.97 1220.5,119.93 1221.5,119.86 1222.5,119.79 1223.5,119.70 1224.5,119.60 1225.5,119.49 1226.5,119.36 1227.5,119.21 1228.5,119.05 1229.5,118.87 1230.5,118.68 1231.5,118.47 1232.5,118.24 1233.5,118.00 1234.5,117.73 1235.5,117.44 1236.5,117.14 1237.5,116.81 1238.5,116.46 1239.5,116.09 1240.5,115.69 1241.5,115.27 1242.5,114.83 1243.5,114.37 1244.5,113.88 1245.5,113.36 1246.5,112.82 1247.5,112.25 1248.5,111.66 1249.5,111.04 1250.5,110.39 1251.5,109.72 1252.5,109.03 1253.5,108.31 1254.5,107.56 1255.5,106.79 1256.5,105.99 1257.5,105.17 1258.5,104.33 1259.5,103.47 1260.5,102.58 1261.5,101.67 1262.5,100.74 1263.5,99.80 1264.5,98.84 1265.5,97.86 1266.5,96.86 1267.5,95.85 1268.5,94.83 1269.5,93.79 1270.5,92.75 1271.5,91.70 1272.5,90.64 1273.5,89.57 1274.5,88.51 1275.5,87.44 1276.5,86.36" fill="none" stroke="#00ff00" stroke-width="2.0"/>
<polyline points="71.50,288.12 71.50,270.91 119.88,340.17 119.88,270.61 168.26,340.09 168.26,270.30 216.64,340.00 216.64,269.99 265.02,339.92 265.02,269.68 313.40,339.84 313.40,269.37 361.78,339.76 361.78,269.07 410.16,339.68 410.16,268.76 458.54,339.59 458.54,268.45 506.92,339.51 506.92,268.14 555.30,339.43 555.30,267.83 603.68,339.35 603.68,267.52 652.06,339.26 652.06,267.22 700.44,339.18 700.44,266.91 748.82,339.10 748.82,266.60 797.20,339.02 797.20,266.29 845.58,338.94 845.58,265.98 893.96,338.85 893.96,265.68 942.34,338.77 942.34,265.37 990.72,338.69 990.72,265.06 1039.10,338.61 1039.10,264.75 1087.48,338.52 1087.48,264.44 1135.86,338.44 1135.86,264.13 1184.24,338.36 1184.24,263.83 1232.62,338.28 1232.62,263.52 1281.00,338.20 1281.00,263.21" fill="none" stroke="#ff00ff" stroke-width="2.8" stroke-linejoin="round"/>
<polyline points="71.50,375.18 94.05,299.68 119.88,375.05 142.49,299.61 168.26,374.93 190.94,299.55 216.64,374.81 239.38,299.49 265.02,374.68 287.83,299.43 313.40,374.56 336.27,299.37 361.78,374.44 384.72,299.31 410.16,374.31 433.17,299.24 458.54,374.19 481.61,299.18 506.92,374.07 530.06,299.12 555.30,373.94 578.50,299.06 603.68,373.82 626.95,299.00 652.06,373.70 675.39,298.94 700.44,373.57 723.84,298.87 748.82,373.45 772.29,298.81 797.20,373.33 820.73,298.75 845.58,373.20 869.18,298.69 893.96,373.08 917.62,298.63 942.34,372.96 966.07,298.57 990.72,372.83 1014.52,298.50 1039.10,372.71 1062.96,298.44 1087.48,372.59 1111.41,298.38 1135.86,372.46 1159.85,298.32 1184.24,372.34 1208.30,298.26 1232.62,372.22 1256.74,298.20 1281.00,371.58" fill="none" stroke="#00ff00" stroke-width="2.8" stroke-linejoin="round"/>
<g opacity="0.999">
<text x="74.9" y="187.8" font-size="21" text-anchor="middle" >2.1</text>
<text x="194.99999999999744" y="187.8" font-size="21" text-anchor="middle" >2.11</text>
<text x="315.1000000000002" y="187.8" font-size="21" text-anchor="middle" >2.12</text>
<text x="435.19999999999766" y="187.8" font-size="21" text-anchor="middle" >2.13</text>
<text x="555.3000000000004" y="187.8" font-size="21" text-anchor="middle" >2.14</text>
<text x="675.3999999999978" y="187.8" font-size="21" text-anchor="middle" >2.15</text>
<text x="795.5000000000006" y="187.8" font-size="21" text-anchor="middle" >2.16</text>
<text x="915.5999999999981" y="187.8" font-size="21" text-anchor="middle" >2.17</text>
<text x="1035.700000000001" y="187.8" font-size="21" text-anchor="middle" >2.18</text>
<text x="1155.7999999999984" y="187.8" font-size="21" text-anchor="middle" >2.19</text>
<text x="1275.9000000000012" y="187.8" font-size="21" text-anchor="middle" >2.2</text>
<text x="70.8" y="424.0" font-size="21" text-anchor="middle" >2.1995</text>
<text x="191.7499999997181" y="424.0" font-size="21" text-anchor="middle" >2.19955</text>
<text x="312.7000000005105" y="424.0" font-size="21" text-anchor="middle" >2.1996</text>
<text x="433.6500000002286" y="424.0" font-size="21" text-anchor="middle" >2.19965</text>
<text x="554.5999999999467" y="424.0" font-size="21" text-anchor="middle" >2.1997</text>
<text x="675.5499999996648" y="424.0" font-size="21" text-anchor="middle" >2.19975</text>
<text x="796.5000000004571" y="424.0" font-size="21" text-anchor="middle" >2.1998</text>
<text x="917.4500000001752" y="424.0" font-size="21" text-anchor="middle" >2.19985</text>
<text x="1038.3999999998935" y="424.0" font-size="21" text-anchor="middle" >2.1999</text>
<text x="1159.3499999996116" y="424.0" font-size="21" text-anchor="middle" >2.19995</text>
<text x="1280.3000000004038" y="424.0" font-size="21" text-anchor="middle" >2.2</text>
<text x="67.5" y="169.0" font-size="21" text-anchor="end" >0</text>
<text x="67.5" y="94.75" font-size="21" text-anchor="end" >0.5</text>
<text x="67.5" y="20.5" font-size="21" text-anchor="end" >1</text>
<text x="63.4" y="404.96" font-size="21" text-anchor="end" >-2</text>
<text x="63.4" y="353.59999999999997" font-size="21" text-anchor="end" >0</text>
<text x="63.4" y="302.23999999999995" font-size="21" text-anchor="end" >2</text>
<text x="63.4" y="250.87999999999997" font-size="21" text-anchor="end" >4</text>
<text x="632.46" y="214.1" font-size="24.4" style="stroke-width:0" textLength="53.81" lengthAdjust="spacingAndGlyphs">Time</text>
<text x="693.63" y="214.1" font-size="24.4" style="stroke-width:0">(s)</text>
<text x="676" y="448.3" font-size="21" text-anchor="middle">Time (s)</text>
<g transform="translate(29.2,0) rotate(-90)"><text x="-147.22" y="0" font-size="24.5" font-style="italic" style="stroke-width:0.1px">D</text><text x="-128.71" y="4.2" font-size="17.5" font-style="italic" style="stroke-width:0.1px">a</text><text x="-119.16" y="0" font-size="24.5"  style="stroke-width:0.1px">,</text><text x="-85.43" y="0" font-size="24.5" font-style="italic" style="stroke-width:0.1px">d</text><text x="-73.82" y="0" font-size="24.5"  style="stroke-width:0.1px">(</text><text x="-67.95" y="0" font-size="24.5" font-style="italic" style="stroke-width:0.1px">n</text><text x="-53.54" y="0" font-size="24.5" font-style="italic" style="stroke-width:0.1px">T</text><text x="-34.49" y="0" font-size="24.5"  style="stroke-width:0.1px">)</text></g>
<g transform="translate(30.3,0) rotate(-90)"><text x="-428.61" y="0" font-size="24.5" font-style="italic" style="stroke-width:0.1px">R</text><text x="-413.95" y="4.2" font-size="17.5" font-style="italic" style="stroke-width:0.1px">s</text><text x="-404.47" y="0" font-size="24.5"  style="stroke-width:0.1px">(</text><text x="-397.51" y="0" font-size="24.5" font-style="italic" style="stroke-width:0.1px">i</text><text x="-391.62" y="4.2" font-size="17.5"  style="stroke-width:0.1px">1</text><text x="-375.17" y="1.7" font-size="24.5"  style="stroke-width:0.1px">−</text><text x="-354.96" y="0" font-size="24.5" font-style="italic" style="stroke-width:0.1px">i</text><text x="-348.73" y="4.2" font-size="17.5"  style="stroke-width:0.1px">2</text><text x="-339.99" y="0" font-size="24.5"  style="stroke-width:0.1px">)</text><text x="-331.06" y="0" font-size="24.5"  style="stroke-width:0.1px">,</text><text x="-324.21" y="0" font-size="24.5" font-style="italic" style="stroke-width:0.1px">R</text><text x="-309.65" y="4.2" font-size="17.5" font-style="italic" style="stroke-width:0.1px">s</text><text x="-302.86" y="0" font-size="24.5" font-style="italic" style="stroke-width:0.1px">i</text><text x="-295.89" y="4.2" font-size="17.5"  style="stroke-width:0.1px">ref</text><text x="-268.42" y="1.7" font-size="24.5"  style="stroke-width:0.1px">−</text><text x="-251.10" y="0" font-size="24.5" font-style="italic" style="stroke-width:0.1px">v</text><text x="-239.89" y="4.2" font-size="17.5" font-style="italic" style="stroke-width:0.1px">r</text></g>
</g>
</svg>
</body></html>
